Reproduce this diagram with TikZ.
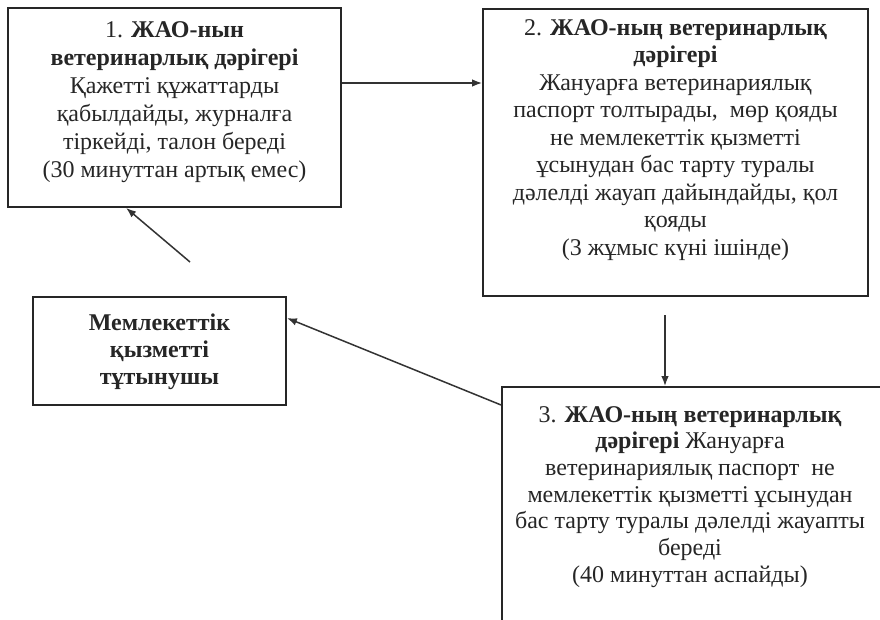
\documentclass[tikz,border=0pt]{standalone}
\usepackage{fontspec}
\setmainfont{Liberation Serif}
\usetikzlibrary{arrows.meta}
\begin{document}
\begin{tikzpicture}[x=1pt,y=-1pt,
  box/.style={draw=black!85,line width=1.8pt,inner sep=0pt,minimum width=#1},
  txt/.style={align=center,inner sep=0pt,text=black!85,font=\fontsize{24}{28}\selectfont},
  arr/.style={draw=black!80,line width=1.5pt,-{Latex[length=10pt,width=7.5pt]}}]
\path[use as bounding box,clip] (0,0) rectangle (880,619);
\fill[white] (0,0) rectangle (880,619);
% boxes
\node[box=333pt,minimum height=199pt] (b1) at (174.5,107.5) {};
\node[box=385pt,minimum height=287pt] (b2) at (675.5,152.5) {};
\node[box=253pt,minimum height=108pt] (cons) at (159.5,351) {};
\node[box=393pt,minimum height=260pt] (b3) at (698.5,517) {};
% texts
\node[txt,anchor=north] (t1) at (174.5,21) {1. \textbf{ЖАО-нын}\\\textbf{ветеринарлық дәрігері}\\Қажетті құжаттарды\\қабылдайды, журналға\\тіркейді, талон береді\\(30 минуттан артық емес)};
\node[txt,anchor=north,font=\fontsize{24}{27.5}\selectfont] (t2) at (675.5,19) {2. \textbf{ЖАО-ның ветеринарлық}\\\textbf{дәрігері}\\Жануарға ветеринариялық\\паспорт толтырады,\ \ мөр қояды\\не мемлекеттік қызметті\\ұсынудан бас тарту туралы\\дәлелді жауап дайындайды, қол\\қояды\\(3 жұмыс күні ішінде)};
\node[txt,anchor=north,font=\bfseries\fontsize{24}{27}\selectfont] (t4) at (159.5,314) {Мемлекеттік\\қызметті\\тұтынушы};
\node[txt,anchor=north,font=\fontsize{24}{26.7}\selectfont] (t3) at (690,406) {3. \textbf{ЖАО-ның ветеринарлық}\\\textbf{дәрігері} Жануарға\\ветеринариялық паспорт\ \ не\\мемлекеттік қызметті ұсынудан\\бас тарту туралы дәлелді жауапты\\береді\\(40 минуттан аспайды)};
% connectors
\coordinate (c1) at (190,262);
\coordinate (c2) at (665,315);
\draw[arr] ([yshift=24.5pt]b1.east) -- ([yshift=69.5pt]b2.west);
\draw[arr] (c1) -- ([xshift=119pt]b1.south west);
\draw[arr] (c2) -- ([xshift=-33.5pt]b3.north);
\draw[arr] ([yshift=112pt]b3.west) -- ([yshift=33pt]cons.east);
\end{tikzpicture}
\end{document}
